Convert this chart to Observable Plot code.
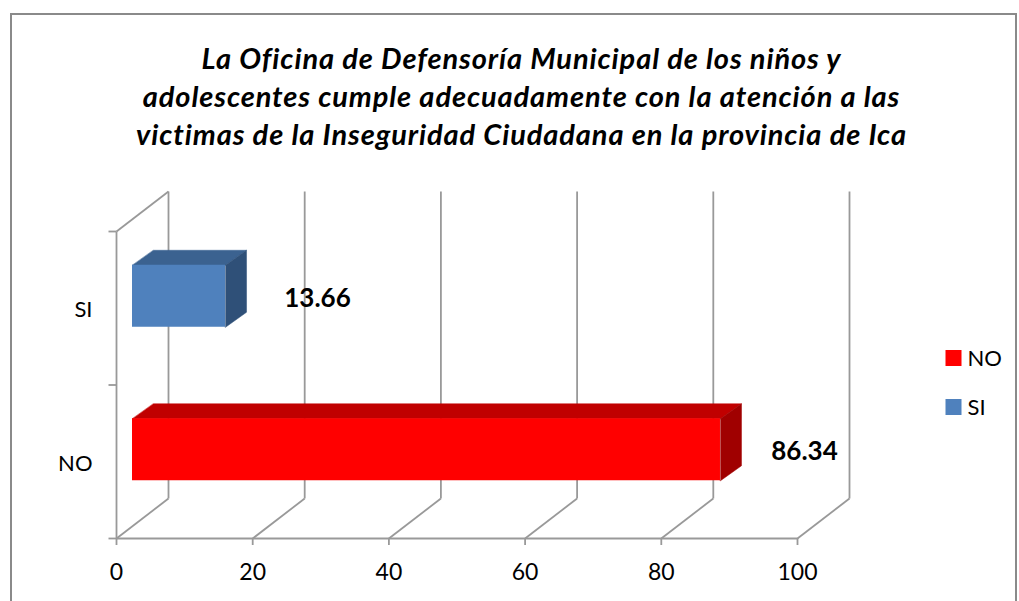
<!DOCTYPE html>
<html>
<head>
<meta charset="utf-8">
<script src="https://cdn.jsdelivr.net/npm/d3@7"></script>
<script src="https://cdn.jsdelivr.net/npm/@observablehq/plot@0.6"></script>
<style>
  html, body { margin: 0; padding: 0; background: #fff; }
  #wrap { position: relative; width: 1019px; height: 601px; overflow: hidden; }
  #border { position: absolute; left: 10px; top: 13px; width: 1007px; height: 600px; border: 2px solid #8a8a8a; box-sizing: border-box; }
  #chart { position: absolute; left: 0; top: 0; }
</style>
</head>
<body>
<div id="wrap"><div id="border"></div><div id="chart"></div></div>
<script>
// ---- data ----
const categories = ["NO", "SI"];
const values = [86.34, 13.66];
const frontColors = ["#FF0000", "#4F81BD"];
const topColors = ["#C00000", "#3B6290"];
const sideColors = ["#A00000", "#2F5078"];
const xTicks = [0, 20, 40, 60, 80, 100];
const legendLabels = ["NO", "SI"];
const legendColors = ["#FF0000", "#4F81BD"];
const titleLines = [
  "La Oficina de Defensoría Municipal de los niños y",
  "adolescentes cumple adecuadamente con la atención a las",
  "victimas de la Inseguridad Ciudadana en la provincia de Ica"
];

// ---- geometry ----
const W = 1019, H = 601, mL = 116, mR = 222, mT = 231, mB = 63;
const kx = 100 / (W - mL - mR);   // x units per pixel
const ky = 2 / (H - mT - mB);     // y units per pixel
const DX = 52 * kx, DY = 40 * ky;     // wall depth
const FX = 16 * kx, FY = 12 * ky;     // bar front offset
const BX = 21 * kx, BY = 15 * ky;     // bar depth
const HH = 31 * ky;                   // bar half height
const FONT = "Lato, 'Open Sans', 'DejaVu Sans', sans-serif";
const GRID = "#999999";

// grid segments
const segs = [
  ...xTicks.map(t => ({x1: t + DX, y1: DY, x2: t + DX, y2: 2 + DY})),
  ...xTicks.map(t => ({x1: t, y1: 0, x2: t + DX, y2: DY})),
  {x1: 0, y1: 0, x2: 0, y2: 2},
  {x1: 0, y1: 2, x2: DX, y2: 2 + DY},
  {x1: 0, y1: 0, x2: 100, y2: 0},
  ...[0, 1, 2].map(y => ({x1: -8 * kx, y1: y, x2: 0, y2: y}))
];

// bar faces
const bars = categories.map((c, i) => {
  const v = values[i], cy = i + 0.5 + FY;
  return {cat: c, v, i, yB: cy - HH, yT: cy + HH};
});
const polys = bars.flatMap(b => {
  const top = [[FX, b.yT], [b.v + FX, b.yT], [b.v + FX + BX, b.yT + BY], [FX + BX, b.yT + BY]]
    .map(([x, y]) => ({id: "top" + b.i, x, y, fill: topColors[b.i]}));
  const side = [[b.v + FX, b.yT], [b.v + FX + BX, b.yT + BY], [b.v + FX + BX, b.yB + BY], [b.v + FX, b.yB]]
    .map(([x, y]) => ({id: "side" + b.i, x, y, fill: sideColors[b.i]}));
  return [...top, ...side];
});

const plot = Plot.plot({
  width: W, height: H,
  marginLeft: mL, marginRight: mR, marginTop: mT, marginBottom: mB,
  x: {domain: [0, 100], axis: null},
  y: {domain: [0, 2], axis: null},
  color: {type: "identity"},
  style: {fontFamily: FONT, background: "transparent", overflow: "visible"},
  marks: [
    Plot.link(segs, {x1: "x1", y1: "y1", x2: "x2", y2: "y2", stroke: GRID, strokeWidth: 1.8}),
    Plot.ruleX(xTicks, {x: d => d, y1: 0, y2: -7 * ky, stroke: GRID, strokeWidth: 1.8}),
    Plot.text(xTicks, {x: d => d, y: 0, dy: 34, text: d => String(d), fontSize: 23, fill: "#000"}),
    Plot.text(categories, {x: 0, y: (d, i) => i + 0.5, dx: -24, dy: 2, text: d => d, textAnchor: "end", fontSize: 22, fill: "#000"}),
    Plot.line(polys, {x: "x", y: "y", z: "id", fill: "fill", stroke: "fill", strokeWidth: 0.5, curve: "linear-closed"}),
    Plot.rect(bars, {x1: FX, x2: d => d.v + FX, y1: "yB", y2: "yT", fill: (d) => frontColors[d.i]}),
    Plot.text(bars, {x: d => d.v + FX, y: d => d.i + 0.5 + FY, text: d => d.v.toFixed(2), fontSize: 26, fontWeight: "bold", fill: "#000", textAnchor: "middle", dy: 2,
      render: (index, scales, values, dims, ctx, next) => {
        const g = next(index, scales, values, dims, ctx);
        d3.select(g).selectAll("text").attr("dx", (_, j) => [84, 92][index[j]]);
        return g;
      }}),
    Plot.text([titleLines.join("\n")], {frameAnchor: "top", dx: 64.5, dy: -189, lineAnchor: "top", lineHeight: 38 / 29, fontSize: 29, fontWeight: "bold", fontStyle: "italic", fill: "#000",
      render: (index, scales, values, dims, ctx, next) => {
        const g = next(index, scales, values, dims, ctx);
        d3.select(g).selectAll("text").attr("letter-spacing", "0.9px");
        return g;
      }}),
    ...legendLabels.map((k, i) => Plot.dot([k], {frameAnchor: "top-right", dx: 156, dy: 126.5 + i * 49, symbol: "square", r: 9.03, fill: legendColors[i], stroke: null})),
    ...legendLabels.map((k, i) => Plot.text([k], {frameAnchor: "top-right", dx: 170, dy: 127 + i * 49, lineAnchor: "middle", text: d => d, textAnchor: "start", fontSize: 22, fill: "#000"}))
  ]
});
document.getElementById("chart").appendChild(plot);
</script>
</body>
</html>
